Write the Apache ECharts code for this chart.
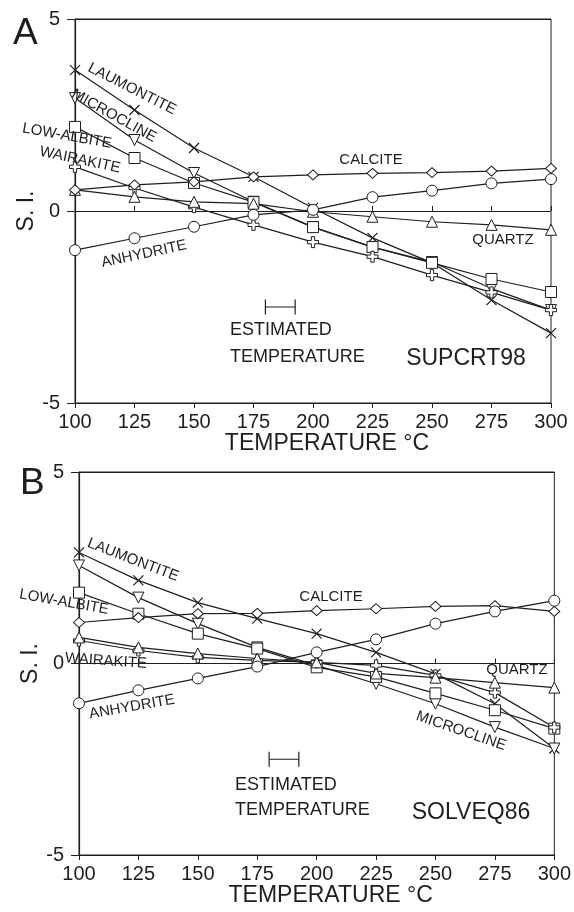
<!DOCTYPE html>
<html>
<head>
<meta charset="utf-8">
<script src="https://cdn.jsdelivr.net/npm/echarts@6/dist/echarts.min.js"></script>
<style>
html,body{margin:0;padding:0;background:#fff;}
#c{width:574px;height:912px;}
</style>
</head>
<body>
<div id="c"></div>
<script>
// ---------- data ----------
const temps = [100, 125, 150, 175, 200, 225, 250, 275, 300];
const xTicks = ['100','125','150','175','200','225','250','275','300'];
const yTicks = [-5, 0, 5];

// Panel A (SUPCRT98)
const laumontiteA = [3.67, 2.63, 1.64, 0.89, 0.08, -0.70, -1.35, -2.32, -3.18];
const microclineA = [2.94, 1.85, 0.99, 0.24, -0.42, -0.94, -1.33, -2.02, -2.58];
const lowAlbiteA  = [2.19, 1.38, 0.73, 0.23, -0.42, -0.94, -1.35, -1.77, -2.11];
const wairakiteA  = [1.15, 0.60, 0.10, -0.36, -0.81, -1.19, -1.67, -2.12, -2.58];
const quartzA     = [0.55, 0.37, 0.24, 0.19, -0.02, -0.15, -0.28, -0.36, -0.49];
const calciteA    = [0.55, 0.68, 0.76, 0.89, 0.94, 0.98, 1.00, 1.04, 1.11];
const anhydriteA  = [-1.02, -0.71, -0.41, -0.10, 0.03, 0.36, 0.53, 0.72, 0.83];

// Panel B (SOLVEQ86)
const laumontiteB = [2.90, 2.17, 1.59, 1.17, 0.78, 0.29, -0.27, -1.05, -2.22];
const microclineB = [2.56, 1.72, 1.04, 0.42, -0.05, -0.53, -1.05, -1.66, -2.22];
const lowAlbiteB  = [1.85, 1.30, 0.78, 0.39, -0.10, -0.35, -0.78, -1.22, -1.70];
const wairakiteB  = [0.60, 0.34, 0.16, 0.08, 0.03, -0.05, -0.31, -0.76, -1.67];
const quartzB     = [0.68, 0.42, 0.26, 0.13, 0.03, -0.26, -0.37, -0.50, -0.63];
const calciteB    = [1.07, 1.20, 1.30, 1.31, 1.38, 1.43, 1.49, 1.51, 1.36];
const anhydriteB  = [-1.04, -0.70, -0.39, -0.08, 0.29, 0.63, 1.04, 1.36, 1.64];

// estimated temperature range
const estRange = [180, 192.5];
const estLevel = -2.5;

// ---------- chart ----------
const FONT = '"Liberation Sans", Arial, sans-serif';
const INK = '#1e1e1e';
const symX = 'path://M0,0L10,10M10,0L0,10';
const symPlus = 'path://M3.5,0H6.5V3.5H10V6.5H6.5V10H3.5V6.5H0V3.5H3.5Z';

const markerStyles = {
  laumontite: {symbol: symX, symbolSize: 10, itemStyle: {color: 'rgba(0,0,0,0)', borderColor: INK, borderWidth: 1.2}},
  microcline: {symbol: 'triangle', symbolRotate: 180, symbolSize: 11, itemStyle: {color: '#fff', borderColor: INK, borderWidth: 1}},
  lowAlbite:  {symbol: 'rect', symbolSize: 11, itemStyle: {color: '#fff', borderColor: INK, borderWidth: 1}},
  wairakite:  {symbol: symPlus, symbolSize: 11, itemStyle: {color: '#fff', borderColor: INK, borderWidth: 1}},
  quartz:     {symbol: 'triangle', symbolSize: 11, itemStyle: {color: '#fff', borderColor: INK, borderWidth: 1}},
  calcite:    {symbol: 'diamond', symbolSize: [11, 10], itemStyle: {color: '#fff', borderColor: INK, borderWidth: 1}},
  anhydrite:  {symbol: 'circle', symbolSize: 11, itemStyle: {color: '#fff', borderColor: INK, borderWidth: 1}}
};

function mk(name, key, vals, gi) {
  const m = markerStyles[key];
  return Object.assign({
    name: name, type: 'line', xAxisIndex: gi * 2, yAxisIndex: gi,
    data: temps.map((t, i) => [t, vals[i]]),
    lineStyle: {color: INK, width: 1.2},
    showAllSymbol: true, z: 3, silent: true
  }, m);
}
function bracket(gi) {
  return {
    type: 'line', xAxisIndex: gi * 2, yAxisIndex: gi,
    data: estRange.map(t => [t, estLevel]),
    symbol: 'rect', symbolSize: [1.2, 15],
    itemStyle: {color: INK}, lineStyle: {color: INK, width: 1.2}, silent: true
  };
}

const grids = [
  {left: 75, top: 19, width: 476, height: 384},
  {left: 79, top: 472, width: 477, height: 383}
].map(g => Object.assign(g, {show: true, borderColor: INK, borderWidth: 1, backgroundColor: 'transparent'}));

function xAxes(gi) {
  return [
    {
      type: 'value', gridIndex: gi, min: 100, max: 300, interval: 25, position: 'bottom',
      axisLine: {show: true, onZero: false, lineStyle: {color: INK, width: 1.2}},
      axisTick: {show: true, inside: false, length: 5, lineStyle: {color: INK}},
      axisLabel: {fontSize: 20, fontFamily: FONT, color: INK, margin: 9,
                  formatter: v => xTicks[temps.indexOf(v)] || ''},
      splitLine: {show: false},
      name: 'TEMPERATURE °C', nameLocation: 'middle', nameGap: 29, nameMoveOverlap: false,
      nameTextStyle: {fontSize: 23, fontFamily: FONT, color: INK, padding: [0, 0, 0, 28]}
    },
    {
      type: 'value', gridIndex: gi, min: 100, max: 300, interval: 25, position: 'bottom',
      axisLine: {show: false}, axisLabel: {show: false}, splitLine: {show: false},
      axisTick: {show: true, inside: true, length: 5, lineStyle: {color: INK}}
    }
  ];
}
function yAxis(gi) {
  return {
    type: 'value', gridIndex: gi, min: yTicks[0], max: yTicks[2], interval: 5,
    axisLine: {show: true, onZero: false, lineStyle: {color: INK, width: 1.2}},
    axisTick: {show: true, length: 8, lineStyle: {color: INK}},
    axisLabel: {fontSize: 20, fontFamily: FONT, color: INK, margin: 15},
    splitLine: {show: true, lineStyle: {color: INK, width: 1}},
    name: 'S. I.', nameLocation: 'middle', nameRotate: 90, nameGap: 37, nameMoveOverlap: false,
    nameTextStyle: {fontSize: 23, fontFamily: FONT, color: INK}
  };
}

const series = [
  mk('LAUMONTITE', 'laumontite', laumontiteA, 0),
  mk('MICROCLINE', 'microcline', microclineA, 0),
  mk('LOW-ALBITE', 'lowAlbite', lowAlbiteA, 0),
  mk('WAIRAKITE', 'wairakite', wairakiteA, 0),
  mk('QUARTZ', 'quartz', quartzA, 0),
  mk('CALCITE', 'calcite', calciteA, 0),
  mk('ANHYDRITE', 'anhydrite', anhydriteA, 0),
  bracket(0),
  mk('LAUMONTITE', 'laumontite', laumontiteB, 1),
  mk('MICROCLINE', 'microcline', microclineB, 1),
  mk('LOW-ALBITE', 'lowAlbite', lowAlbiteB, 1),
  mk('WAIRAKITE', 'wairakite', wairakiteB, 1),
  mk('QUARTZ', 'quartz', quartzB, 1),
  mk('CALCITE', 'calcite', calciteB, 1),
  mk('ANHYDRITE', 'anhydrite', anhydriteB, 1),
  bracket(1)
];

function txt(s, x, y, size, deg, align) {
  return {
    type: 'text', x: x, y: y, rotation: (deg || 0) * Math.PI / 180, z: 10, silent: true,
    style: {text: s, fontSize: size, fontFamily: FONT, fill: INK,
            align: align || 'center', verticalAlign: 'middle'}
  };
}
const graphics = [
  txt('A', 13, 34, 37, 0, 'left'),
  txt('B', 20, 484, 37, 0, 'left'),
  // panel A annotations
  txt('LAUMONTITE', 132, 89, 15, -27),
  txt('MICROCLINE', 114, 116, 15, -29),
  txt('LOW-ALBITE', 67, 136, 15, -10),
  txt('WAIRAKITE', 80, 160, 15, -12),
  txt('CALCITE', 371, 160, 15, 0),
  txt('QUARTZ', 503, 240, 15, 0),
  txt('ANHYDRITE', 144, 254, 15, 12),
  txt('ESTIMATED', 230, 330, 18, 0, 'left'),
  txt('TEMPERATURE', 230, 357, 18, 0, 'left'),
  txt('SUPCRT98', 466, 359, 23, 0),
  // panel B annotations
  txt('LAUMONTITE', 133, 560, 15, -21),
  txt('LOW-ALBITE', 64, 602, 15, -10),
  txt('CALCITE', 331, 597, 15, 0),
  txt('WAIRAKITE', 106, 661, 15, -4),
  txt('ANHYDRITE', 132, 707, 15, 10),
  txt('QUARTZ', 517, 670, 15, 0),
  txt('MICROCLINE', 461, 731, 15, -19),
  txt('ESTIMATED', 235, 785, 18, 0, 'left'),
  txt('TEMPERATURE', 235, 810, 18, 0, 'left'),
  txt('SOLVEQ86', 471, 813, 23, 0)
];

const chart = echarts.init(document.getElementById('c'), null, {renderer: 'canvas'});
chart.setOption({
  animation: false,
  backgroundColor: '#fff',
  grid: grids,
  xAxis: xAxes(0).concat(xAxes(1)),
  yAxis: [yAxis(0), yAxis(1)],
  series: series,
  graphic: graphics
});
</script>
</body>
</html>
